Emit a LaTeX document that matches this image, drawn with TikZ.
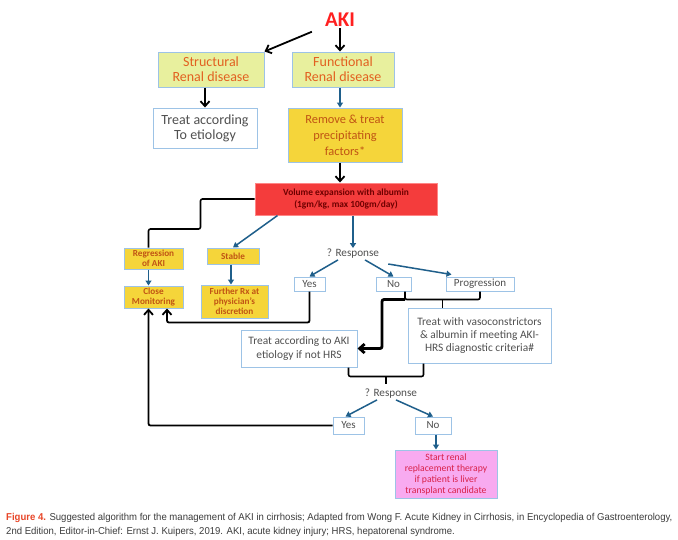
\documentclass[tikz,border=0pt]{standalone}
\usepackage{fontspec}
\setmainfont{Carlito}
\newfontfamily\capfont[FakeStretch=0.955]{Liberation Sans}
\usetikzlibrary{arrows.meta,calc,positioning}
\definecolor{boxBlue}{RGB}{157,195,230}
\definecolor{paleGreen}{RGB}{232,240,158}
\definecolor{goldFill}{RGB}{245,213,58}
\definecolor{volumeRed}{RGB}{244,60,60}
\definecolor{pinkFill}{RGB}{248,170,240}
\definecolor{orangeText}{RGB}{226,96,32}
\definecolor{brownText}{RGB}{192,84,20}
\definecolor{darkRedText}{RGB}{110,0,0}
\definecolor{grayText}{RGB}{80,80,80}
\definecolor{rrtText}{RGB}{216,32,72}
\definecolor{arrowBlue}{RGB}{31,95,139}
\definecolor{akiRed}{RGB}{255,32,32}
\definecolor{capRed}{RGB}{232,70,40}
\definecolor{capGray}{RGB}{60,60,60}
\tikzset{
  akiBox/.style={draw=boxBlue, line width=1pt, align=center, inner sep=1pt},
  akiGreenBox/.style={akiBox, fill=paleGreen, text=orangeText, font=\fontsize{14}{15}\selectfont},
  akiWhiteBox/.style={akiBox, fill=white, text=grayText, font=\fontsize{11.4}{13.3}\selectfont},
  akiSmallBox/.style={akiBox, fill=goldFill, text=brownText, font=\bfseries\fontsize{9.2}{10.2}\selectfont},
  akiAnswer/.style={akiBox, fill=white, text=grayText, font=\fontsize{11}{12}\selectfont},
  akiQuestion/.style={text=grayText, inner sep=1pt, font=\fontsize{11.2}{12}\selectfont},
  akiArrow/.style={-{Straight Barb[length=5pt,width=9pt]}, line width=1.8pt},
  akiBlueArrow/.style={-{Triangle[length=5pt,width=6pt]}, line width=1.5pt, draw=arrowBlue},
  akiLine/.style={line width=1.6pt, rounded corners=2pt}
}
\begin{document}
\begin{tikzpicture}[x=1pt, y=-1pt,
    removeBox/.style={akiBox, fill=goldFill, text=brownText, font=\fontsize{12.4}{16}\selectfont},
    volumeBox/.style={akiBox, draw=pink!70!red, fill=volumeRed, text=darkRedText, font=\bfseries\fontsize{9.4}{12}\selectfont},
    rrtBox/.style={akiBox, fill=pinkFill, text=rrtText, font=\fontsize{9.7}{11}\selectfont}
  ]
  \fill[white] (0,0) rectangle (678,539);
  \useasboundingbox (0,0) rectangle (678,539);
  \node[text=akiRed, inner sep=1pt, font=\bfseries\fontsize{21}{21}\selectfont] (aki) at (340,20) {AKI};
  \node[akiGreenBox, minimum width=106pt, minimum height=35pt] (structural) at (211,69.5) {Structural\\Renal disease};
  \node[akiGreenBox, minimum width=102pt, minimum height=35pt] (functional) at (343,69.5) {Functional\\Renal disease};
  \node[akiWhiteBox, minimum width=104pt, minimum height=40pt, font=\fontsize{14}{15}\selectfont] (etiology) at (205,128) {Treat according\\To etiology};
  \node[removeBox, minimum width=114pt, minimum height=54pt] (remove) at (345,135) {Remove \& treat\\precipitating\\factors*};
  \node[volumeBox, minimum width=182pt, minimum height=32pt] (volume) at (346,199) {Volume expansion with albumin\\(1gm/kg, max 100gm/day)};
  \node[akiSmallBox, minimum width=59pt, minimum height=21pt] (regression) at (153.5,258.5) {Regression\\of AKI};
  \node[akiSmallBox, minimum width=52pt, minimum height=16pt] (stable) at (233,256) {Stable};
  \node[akiSmallBox, minimum width=59pt, minimum height=22pt] (close) at (153.5,297) {Close\\Monitoring};
  \node[akiSmallBox, minimum width=67pt, minimum height=33pt] (further) at (234.5,301.5) {Further Rx at\\physician's\\discretion};
  \node[akiQuestion] (responseOne) at (353,254) {? Response};
  \node[akiAnswer, minimum width=31pt, minimum height=14pt] (yesOne) at (309.5,284) {Yes};
  \node[akiAnswer, minimum width=35pt, minimum height=14pt] (noOne) at (393.5,284) {No};
  \node[akiAnswer, minimum width=68pt, minimum height=14pt] (progression) at (480,284) {Progression};
  \node[akiWhiteBox, minimum width=143pt, minimum height=55pt] (vaso) at (479.5,335.5) {Treat with vasoconstrictors\\\& albumin if meeting AKI-\\HRS diagnostic criteria\#};
  \node[akiWhiteBox, minimum width=116pt, minimum height=37pt] (hrs) at (299,348.5) {Treat according to AKI\\etiology if not HRS};
  \node[akiQuestion] (responseTwo) at (391,394) {? Response};
  \node[akiAnswer, minimum width=31pt, minimum height=17pt] (yesTwo) at (348.5,425.5) {Yes};
  \node[akiAnswer, minimum width=36pt, minimum height=17pt] (noTwo) at (433,425.5) {No};
  \node[rrtBox, minimum width=102pt, minimum height=48pt] (rrt) at (446,474) {Start renal\\replacement therapy\\if patient is liver\\transplant candidate};
  % top part
  \draw[akiArrow, shorten <=13pt] (aki) -- (structural.north east);
  \draw[akiArrow] (aki.south) -- (aki.south |- functional.north);
  \draw[akiArrow] (structural.south -| etiology.north) -- (etiology.north);
  \draw[akiBlueArrow] (functional.south -| aki) -- (aki |- remove.north);
  \draw[akiArrow] (remove.south -| aki) -- (aki |- volume.north);
  % after albumin
  \draw[akiLine] (volume.west) -- ++(-54,0) -- ++(0,30) -| ($(regression.north)+(-5,0)$);
  \draw[akiBlueArrow] ($(volume.south west)+(23,0)$) -- (stable.north);
  \draw[akiBlueArrow] (volume.south -| responseOne) -- (responseOne.north);
  \draw[akiBlueArrow] ($(regression.south)+(-5,0)$) -- ($(close.north)+(-5,0)$);
  \draw[akiBlueArrow] ($(stable.south)+(-2,0)$) -- ($(stable.south |- further.north)+(-2,0)$);
  \draw[akiBlueArrow] ($(responseOne.south)+(-15,0)$) -- (yesOne.north);
  \draw[akiBlueArrow] ($(responseOne.south)+(12,0)$) -- (noOne.north);
  \draw[akiBlueArrow] ($(responseOne.east)+(8,10)$) -- ($(progression.north west)+(6,-2)$);
  \draw[akiArrow, rounded corners=2pt] (yesOne.south) -- ++(0,31) -| ($(close.south)+(13.5,0)$);
  % brackets
  \coordinate (noJoin) at ($(noOne.south)+(11.5,8)$);
  \coordinate (noMid) at ($(noJoin)!0.5!(noJoin -| progression.south)$);
  \draw[akiLine] ($(noOne.south)+(11.5,0)$) -- (noJoin) -| (progression.south);
  \draw[akiLine] (noMid) -- (noMid |- vaso.north);
  \draw[akiArrow, line width=2.8pt, rounded corners=2pt] (noJoin) -- ++(-23,0) |- (hrs.east);
  \coordinate (hrsJoin) at ($(hrs.south east)+(-9,9)$);
  \coordinate (vasoFoot) at ($(vaso.south west)+(16,0)$);
  \coordinate (hrsMid) at ($(hrsJoin)!0.5!(hrsJoin -| vasoFoot)$);
  \draw[akiLine] ($(hrs.south east)+(-9,0)$) -- (hrsJoin) -| (vasoFoot);
  \draw[akiLine] (hrsMid) -- ++(0,7);
  \draw[akiBlueArrow] ($(responseTwo.south)+(-14,0)$) -- ($(yesTwo.north)+(-3,0)$);
  \draw[akiBlueArrow] ($(responseTwo.south)+(5,0)$) -- (noTwo.north);
  \draw[akiArrow, rounded corners=2pt] (yesTwo.west) -| ($(close.south)+(-5,0)$);
  \draw[akiBlueArrow] ($(noTwo.south)+(3,0)$) -- ($(noTwo.south |- rrt.north)+(3,0)$);
  % caption
  \node[anchor=north west, align=left, inner sep=0pt, text=capGray, font=\capfont\fontsize{10}{14}\selectfont] (caption) at (6,513)
    {\textcolor{capRed}{\textbf{Figure 4.}} Suggested algorithm for the management of AKI in cirrhosis; Adapted from Wong F. Acute Kidney in Cirrhosis, in Encyclopedia of Gastroenterology,\\2nd Edition, Editor-in-Chief: Ernst J. Kuipers, 2019. AKI, acute kidney injury; HRS, hepatorenal syndrome.};
\end{tikzpicture}
\end{document}
